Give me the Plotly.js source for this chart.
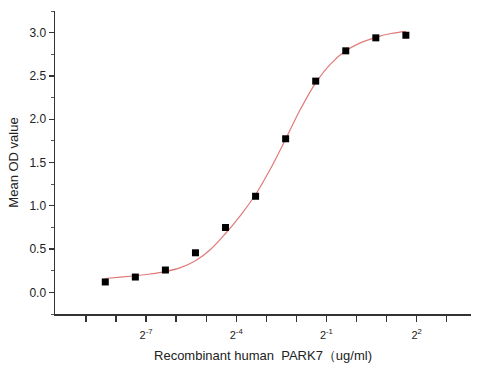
<!DOCTYPE html>
<html>
<head>
<meta charset="utf-8">
<script src="https://cdn.plot.ly/plotly-3.0.1.min.js"></script>
<style>html,body{margin:0;padding:0;background:#fff;}#chart{width:496px;height:368px;}</style>
</head>
<body>
<div id="chart"></div>
<script>
// Measured points (concentration ug/ml, mean OD)
const concentration = [0.0030517578125, 0.006103515625, 0.01220703125, 0.0244140625, 0.048828125, 0.09765625, 0.1953125, 0.390625, 0.78125, 1.5625, 3.125];
const meanOD = [0.12, 0.177, 0.258, 0.457, 0.749, 1.11, 1.774, 2.44, 2.79, 2.94, 2.97];

// Fitted curve
const fitConc = [0.0030518, 0.0043158, 0.0061035, 0.0086317, 0.012207, 0.017263, 0.024414, 0.034527, 0.048828, 0.069053, 0.097656, 0.13811, 0.19531, 0.27621, 0.39063, 0.55243, 0.78125, 1.1049, 1.5625, 2.2097, 3.125];
const fitOD = [0.16, 0.175, 0.192, 0.212, 0.24, 0.285, 0.365, 0.495, 0.68, 0.89, 1.13, 1.43, 1.77, 2.12, 2.42, 2.64, 2.79, 2.885, 2.945, 2.99, 3.015];

// Axis ticks
const xTickVals = [Math.pow(2,-7), Math.pow(2,-4), Math.pow(2,-1), Math.pow(2,2)];
const xTickText = ['2<sup>-7</sup>', '2<sup>-4</sup>', '2<sup>-1</sup>', '2<sup>2</sup>'];
const xMinorVals = [Math.pow(2,-9), Math.pow(2,-8), Math.pow(2,-6), Math.pow(2,-5), Math.pow(2,-3), Math.pow(2,-2), Math.pow(2,0), Math.pow(2,1), Math.pow(2,3)];
const yTickVals = [0, 0.5, 1.0, 1.5, 2.0, 2.5, 3.0];
const yTickText = ['0.0', '0.5', '1.0', '1.5', '2.0', '2.5', '3.0'];

const font = 'Liberation Sans, Arial, sans-serif';

const traces = [
  {
    x: fitConc, y: fitOD, type: 'scatter', mode: 'lines',
    line: {color: '#e07a7a', width: 1.2, shape: 'spline', smoothing: 1},
    hoverinfo: 'skip', showlegend: false
  },
  {
    x: concentration, y: meanOD, type: 'scatter', mode: 'markers',
    marker: {symbol: 'square', size: 7, color: '#000000'},
    showlegend: false
  }
];

const layout = {
  width: 496, height: 368,
  margin: {l: 55, r: 25, t: 11, b: 54},
  paper_bgcolor: '#ffffff', plot_bgcolor: '#ffffff',
  font: {family: font, color: '#222222', size: 12},
  xaxis: {
    type: 'log',
    range: [-3.019, 1.147],
    showgrid: false, zeroline: false,
    showline: true, linecolor: '#333333', linewidth: 1.5,
    ticks: 'outside', ticklen: 6, tickwidth: 1.3, tickcolor: '#333333',
    tickmode: 'array', tickvals: xTickVals, ticktext: xTickText,
    ticklabelstandoff: 4,
    minor: {tickmode: 'array', tickvals: xMinorVals, ticks: 'outside', ticklen: 6, tickwidth: 1.3, tickcolor: '#333333', showgrid: false},
    tickfont: {family: font, size: 11, color: '#222222'},
    title: {text: 'Recombinant human  PARK7（ug/ml)', font: {family: font, size: 13, color: '#222222'}, standoff: 11}
  },
  yaxis: {
    range: [-0.25, 3.25],
    showgrid: false, zeroline: false,
    showline: true, linecolor: '#333333', linewidth: 1.5,
    ticks: 'outside', ticklen: 5, tickwidth: 1.3, tickcolor: '#333333',
    tickmode: 'array', tickvals: yTickVals, ticktext: yTickText,
    tickfont: {family: font, size: 12, color: '#222222'},
    minor: {dtick: 0.25, tick0: 0, ticks: 'outside', ticklen: 3, tickwidth: 1, tickcolor: '#555555', showgrid: false},
    title: {text: 'Mean OD value', font: {family: font, size: 13, color: '#222222'}, standoff: 8}
  }
};

Plotly.newPlot('chart', traces, layout, {displayModeBar: false, staticPlot: true});
</script>
</body>
</html>
